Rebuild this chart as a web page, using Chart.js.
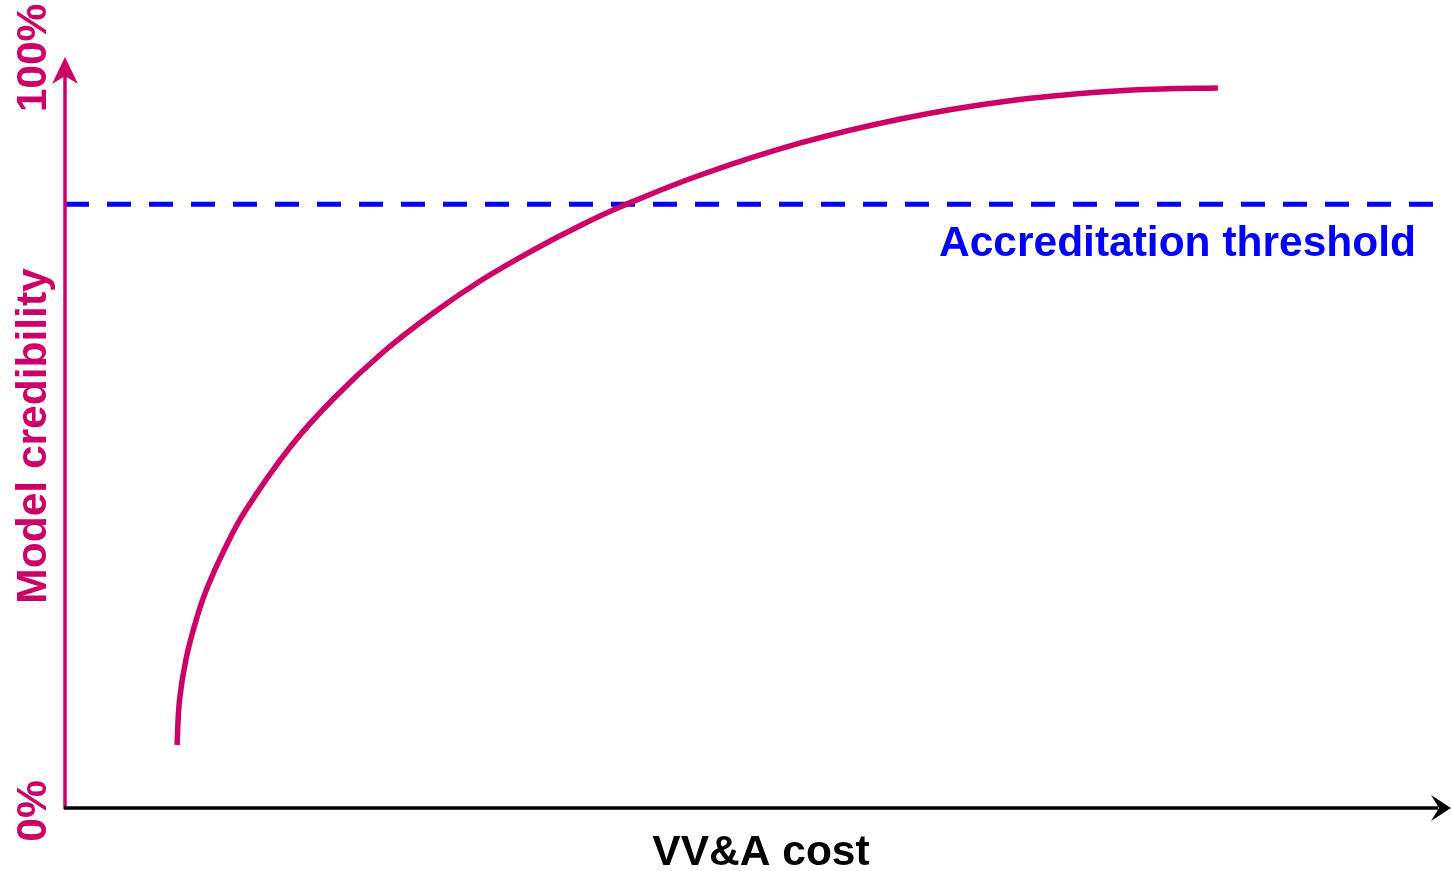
<!DOCTYPE html>
<html>
<head>
<meta charset="utf-8">
<script src="https://cdn.jsdelivr.net/npm/chart.js@4.4.1/dist/chart.umd.min.js"></script>
<style>
    html, body { margin: 0; padding: 0; background: #ffffff; }
    #wrap { width: 1451px; height: 871px; position: relative; }
</style>
</head>
<body>
<div id="wrap"><canvas id="credibility"></canvas></div>
<script>
// VV&A cost (arbitrary units, 0..100) vs model credibility (%)
const costValues = [8.09, 8.27, 8.74, 9.47, 10.26, 11.49, 13.01, 16.26, 19.36, 22.98, 26.59, 30.20, 33.82, 37.43, 40.25, 45.88, 53.11, 60.33, 67.56, 74.78, 79.12, 83.24];
const credibilityValues = [8.40, 14.40, 19.87, 25.07, 29.33, 34.40, 39.60, 48.13, 54.53, 60.80, 66.00, 70.53, 74.40, 77.87, 80.27, 84.40, 88.67, 91.87, 94.13, 95.47, 95.87, 96.00];
const thresholdValue = 80.5;
const thresholdSpan = [0, 99];
const yTickLabels = ['0%', '100%'];

const MAGENTA = '#cc0066';
const BLUE = '#0000ff';
const FONT = 'bold 42.5px "Liberation Sans", Arial, sans-serif';

const curvePoints = costValues.map((c, i) => ({ x: c, y: credibilityValues[i] }));
const thresholdPoints = thresholdSpan.map(c => ({ x: c, y: thresholdValue }));

// Axis arrows and all the labels are drawn by hand on top of the chart
const decorations = {
    id: 'decorations',
    afterDraw(chart) {
        const ctx = chart.ctx;
        const xs = chart.scales.x;
        const ys = chart.scales.y;
        const x0 = xs.getPixelForValue(0);
        const x1 = xs.getPixelForValue(100);
        const y0 = ys.getPixelForValue(0);
        const y1 = ys.getPixelForValue(100);

        ctx.save();

        // y axis with arrow
        ctx.strokeStyle = MAGENTA;
        ctx.fillStyle = MAGENTA;
        ctx.lineWidth = 3.5;
        ctx.beginPath();
        ctx.moveTo(x0, y0 + 1);
        ctx.lineTo(x0, y1 + 18);
        ctx.stroke();
        ctx.beginPath();
        ctx.moveTo(x0, y1 - 1);
        ctx.lineTo(x0 - 13, y1 + 26);
        ctx.lineTo(x0, y1 + 18);
        ctx.lineTo(x0 + 13, y1 + 26);
        ctx.closePath();
        ctx.fill();

        // x axis with arrow
        ctx.strokeStyle = '#000000';
        ctx.fillStyle = '#000000';
        ctx.beginPath();
        ctx.moveTo(x0 - 1, y0);
        ctx.lineTo(x1 - 12, y0);
        ctx.stroke();
        ctx.beginPath();
        ctx.moveTo(x1 + 1, y0);
        ctx.lineTo(x1 - 19, y0 - 13);
        ctx.lineTo(x1 - 11, y0);
        ctx.lineTo(x1 - 19, y0 + 13);
        ctx.closePath();
        ctx.fill();

        ctx.font = FONT;

        // x axis title
        ctx.fillStyle = '#000000';
        ctx.textAlign = 'center';
        ctx.textBaseline = 'alphabetic';
        ctx.fillText('VV&A cost', 761, 865);

        // threshold label
        ctx.fillStyle = BLUE;
        ctx.textAlign = 'right';
        ctx.fillText('Accreditation threshold', 1416, 256);

        // rotated y labels
        ctx.fillStyle = MAGENTA;
        ctx.textAlign = 'center';
        const rotated = [
            [yTickLabels[0], ys.getPixelForValue(0) + 3],
            ['Model credibility', 436],
            [yTickLabels[1], ys.getPixelForValue(100)]
        ];
        for (const [txt, cy] of rotated) {
            ctx.save();
            ctx.translate(46, cy);
            ctx.rotate(-Math.PI / 2);
            ctx.fillText(txt, 0, 0);
            ctx.restore();
        }

        ctx.restore();
    }
};

new Chart(document.getElementById('credibility'), {
    type: 'line',
    data: {
        datasets: [
            {
                label: 'Model credibility',
                data: curvePoints,
                borderColor: MAGENTA,
                borderWidth: 5.5,
                pointRadius: 0,
                tension: 0.4,
                borderCapStyle: 'butt',
                fill: false
            },
            {
                label: 'Accreditation threshold',
                data: thresholdPoints,
                borderColor: BLUE,
                borderWidth: 5,
                borderDash: [24, 18],
                pointRadius: 0,
                fill: false
            }
        ]
    },
    options: {
        responsive: true,
        maintainAspectRatio: false,
        animation: false,
        layout: { padding: { left: 65, right: 1, top: 58, bottom: 63 } },
        scales: {
            x: { type: 'linear', min: 0, max: 100, display: false },
            y: { type: 'linear', min: 0, max: 100, display: false }
        },
        plugins: {
            legend: { display: false },
            tooltip: { enabled: false }
        }
    },
    plugins: [decorations]
});
</script>
</body>
</html>
